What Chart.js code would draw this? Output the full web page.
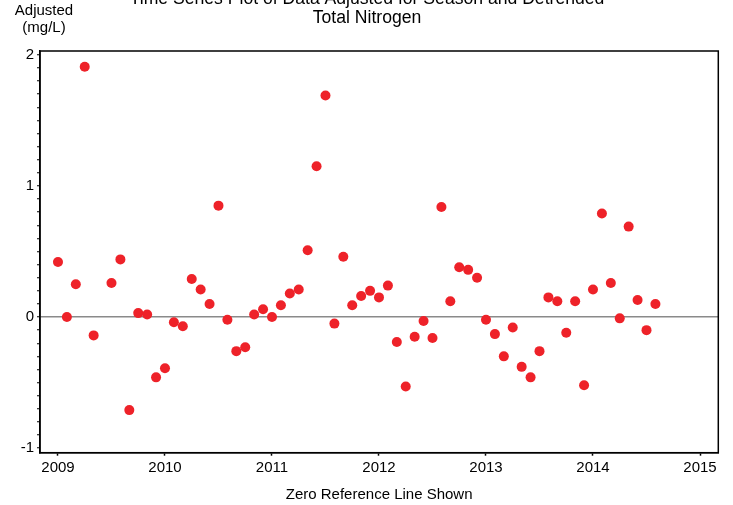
<!DOCTYPE html>
<html>
<head>
<meta charset="utf-8">
<script src="https://cdn.jsdelivr.net/npm/chart.js@4.4.1/dist/chart.umd.min.js"></script>
<style>
  html, body { margin: 0; padding: 0; background: #fff; }
  #wrap { width: 733px; height: 505px; }
</style>
</head>
<body>
<div id="wrap"><canvas id="tsChart" width="733" height="505"></canvas></div>
<script>
// --- DATA ---
const titleLines = ["Time Series Plot of Data Adjusted for Season and Detrended", "Total Nitrogen"];
const yUnitLines = ["Adjusted", "(mg/L)"];
const xAxisTitle = "Zero Reference Line Shown";

const months = [
  "2009-01","2009-02","2009-03","2009-04","2009-05","2009-07","2009-08","2009-09","2009-10","2009-11","2009-12",
  "2010-01","2010-02","2010-03","2010-04","2010-05","2010-06","2010-07","2010-08","2010-09","2010-10","2010-11","2010-12",
  "2011-01","2011-02","2011-03","2011-04","2011-05","2011-06","2011-07","2011-08","2011-09","2011-10","2011-11","2011-12",
  "2012-01","2012-02","2012-03","2012-04","2012-05","2012-06","2012-07","2012-08","2012-09","2012-10","2012-11","2012-12",
  "2013-01","2013-02","2013-03","2013-04","2013-05","2013-06","2013-07","2013-08","2013-09","2013-10","2013-11","2013-12",
  "2014-01","2014-02","2014-03","2014-04","2014-05","2014-06","2014-07","2014-08"
];
const adjustedTN = [
  0.42, 0.00, 0.25, 1.91, -0.14, 0.26, 0.44, -0.71, 0.03, 0.02, -0.46,
  -0.39, -0.04, -0.07, 0.29, 0.21, 0.10, 0.85, -0.02, -0.26, -0.23, 0.02, 0.06,
  0.00, 0.09, 0.18, 0.21, 0.51, 1.15, 1.69, -0.05, 0.46, 0.09, 0.16, 0.20,
  0.15, 0.24, -0.19, -0.53, -0.15, -0.03, -0.16, 0.84, 0.12, 0.38, 0.36, 0.30,
  -0.02, -0.13, -0.30, -0.08, -0.38, -0.46, -0.26, 0.15, 0.12, -0.12, 0.12, -0.52,
  0.21, 0.79, 0.26, -0.01, 0.69, 0.13, -0.10, 0.10
];
const yearTicks = [2009, 2010, 2011, 2012, 2013, 2014, 2015];
const yMajorTicks = [-1, 0, 1, 2];
const yMinorStep = 0.1;

// decimal year from "YYYY-MM"
function toYear(m) {
  const p = m.split("-");
  return Number(p[0]) + (Number(p[1]) - 1) / 12;
}
const points = months.map((m, i) => ({ x: toYear(m), y: adjustedTN[i] }));

const FONT = "'Liberation Sans', Arial, sans-serif";

// --- extra text + frame ---
const framePlugin = {
  id: "frame",
  afterDraw(chart) {
    const { ctx, chartArea: a } = chart;
    ctx.save();
    ctx.strokeStyle = "#000";
    ctx.lineWidth = 1.5;
    ctx.strokeRect(a.left, a.top, a.right - a.left, a.bottom - a.top);

    ctx.fillStyle = "#000";
    ctx.textAlign = "center";
    ctx.textBaseline = "alphabetic";
    ctx.font = "17.6px " + FONT;
    ctx.fillText(titleLines[0], 367, 4);
    ctx.fillText(titleLines[1], 367, 23);

    ctx.font = "15px " + FONT;
    ctx.fillText(yUnitLines[0], 44, 15);
    ctx.fillText(yUnitLines[1], 44, 32);
    ctx.restore();
  }
};

new Chart(document.getElementById("tsChart").getContext("2d"), {
  type: "scatter",
  data: {
    datasets: [{
      data: points,
      backgroundColor: "#ee2229",
      borderWidth: 0,
      pointRadius: 5,
      pointHoverRadius: 5
    }]
  },
  options: {
    responsive: false,
    animation: false,
    devicePixelRatio: 1,
    layout: { padding: { top: 51, right: 14.7, bottom: 0, left: 0 } },
    plugins: { legend: { display: false }, tooltip: { enabled: false }, title: { display: false } },
    scales: {
      x: {
        type: "linear",
        min: 2008.832,
        max: 2015.171,
        afterFit: s => { s.height = 52.3; },
        afterBuildTicks: s => { s.ticks = yearTicks.map(v => ({ value: v })); },
        grid: { display: true, drawOnChartArea: false, drawTicks: true, tickLength: 3, tickColor: "#000", tickWidth: 1.5 },
        border: { display: true, color: "#000", width: 1.5 },
        ticks: { color: "#000", font: { family: FONT, size: 15 }, padding: 3, maxRotation: 0, callback: v => String(v) },
        title: { display: true, text: xAxisTitle, color: "#000", font: { family: FONT, size: 15 }, padding: { top: 1, bottom: 1 } }
      },
      y: {
        min: -1.035,
        max: 2.03,
        afterFit: s => { s.width = 40; },
        afterBuildTicks: s => {
          const t = [];
          for (let v = yMajorTicks[0]; v <= yMajorTicks[yMajorTicks.length - 1] + 1e-9; v += yMinorStep) {
            t.push({ value: Math.round(v * 10) / 10 });
          }
          s.ticks = t;
        },
        grid: {
          display: true,
          drawOnChartArea: true,
          drawTicks: true,
          tickLength: 3,
          color: c => (c.tick && c.tick.value === 0 ? "#8a8a8a" : "rgba(0,0,0,0)"),
          lineWidth: 1.5,
          tickColor: "#000",
          tickWidth: 1
        },
        border: { display: true, color: "#000", width: 1.5 },
        ticks: {
          color: "#000",
          font: { family: FONT, size: 15 },
          padding: 3,
          autoSkip: false,
          callback: v => (yMajorTicks.includes(v) ? String(v) : "")
        }
      }
    }
  },
  plugins: [framePlugin]
});
</script>
</body>
</html>
